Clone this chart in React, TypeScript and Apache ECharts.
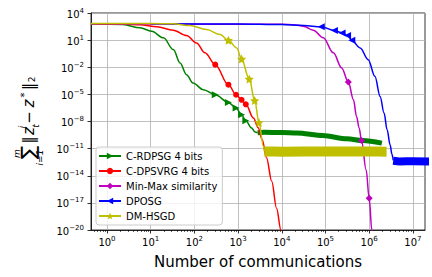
import React, { useEffect, useRef } from 'react';
import * as echarts from 'echarts';

const FONT = 'DejaVu Sans';

const seriesNames = ['C-RDPSG 4 bits', 'C-DPSVRG 4 bits', 'Min-Max similarity', 'DPOSG', 'DM-HSGD'];
const colors = ['#008000', '#ff0000', '#bf00bf', '#0000ff', '#bfbf00'];

// C-RDPSG 4 bits
const rdpsgX = [0.43, 2.3, 5.7, 10.5, 19.5, 33, 47, 66, 93, 160, 300, 600, 900, 1200, 1500, 2040, 2450, 2800];
const rdpsgY = [631, 537, 229, 95.5, 17.8, 0.89, 0.03, 1.5e-3, 1.8e-4, 3.3e-5, 9.1e-6, 1.3e-6, 3.1e-7, 5.6e-8, 1.2e-8, 1.9e-9, 6.8e-10, 5.6e-10];
const rdpsgMarks = [300, 600, 900, 1200, 1500];
const rdpsgBandX = [2800, 4000, 1e4, 2.2e4, 8.7e4, 3.1e5, 7.2e5, 1.95e6];
const rdpsgBandY = [5.6e-10, 6.3e-10, 6.0e-10, 5.2e-10, 2.8e-10, 1.2e-10, 7.9e-11, 4.1e-11];

// C-DPSVRG 4 bits
const dpsvrgX = [0.43, 2.51, 5.7, 13.8, 33, 66, 112, 174, 300, 600, 900, 1200, 1500, 2239, 2884, 3548, 4467, 5888, 7586, 9550, 11220];
const dpsvrgY = [631, 603, 490, 295, 126, 31.6, 4.9, 0.39, 0.0195, 1.17e-4, 9.1e-6, 2.5e-6, 7.9e-7, 2.5e-8, 2.0e-9, 1e-10, 1e-12, 2.5e-15, 2.5e-18, 1e-20, 3.2e-22];
const dpsvrgMarks = [300, 600, 900, 1200, 1500];

// Min-Max similarity
const minmaxX = [0.43, 1e4, 2e4, 30903, 52481, 89125, 151356, 234423, 333333, 436516, 512861, 588844, 666667, 851138, 1e6, 1148154, 1258925];
const minmaxY = [631, 575, 479, 347, 126, 17.8, 0.39, 8.5e-3, 2.3e-4, 2.5e-6, 3.6e-8, 1.9e-9, 7.9e-11, 4.5e-14, 3.2e-17, 1e-20, 3.2e-22];
const minmaxMarks = [333333, 666667, 1e6];

// DPOSG
const dposgX = [10, 1000, 1e4, 3.2e4, 80000, 160000, 240000, 320000, 400000, 6.2e5, 9.5e5, 1.35e6, 1.78e6, 2.19e6, 2.57e6, 3.02e6, 3.31e6, 3.55e6];
const dposgY = [631, 617, 525, 417, 295, 115, 63, 31.6, 9.5, 1.38, 0.069, 1e-3, 6.0e-6, 8.5e-8, 1.26e-9, 2.5e-11, 2.5e-12, 5.0e-13];
const dposgMarks = [80000, 160000, 240000, 320000, 400000];
const dposgBandX = [3.55e6, 5e6, 1e7, 2.5e7];
const dposgBandY = [4.5e-13, 3.8e-13, 4.0e-13, 3.8e-13];

// DM-HSGD
const dmhsgdX = [0.43, 10, 32, 79, 190, 390, 600, 930, 1200, 1800, 2400, 3000, 3800, 4000];
const dmhsgdY = [708, 692, 631, 407, 148, 41.7, 9.5, 1.38, 0.083, 5e-4, 2.1e-6, 7.9e-9, 1.7e-11, 5e-12];
const dmhsgdMarks = [600, 1200, 1800, 2400, 3000];
const dmhsgdBandX = [4000, 1e4, 1e5, 1e6, 2.5e6];
const dmhsgdBandY = [4.8e-12, 4.6e-12, 4.8e-12, 4.8e-12, 4.6e-12];

const xMajorExponents = [0, 1, 2, 3, 4, 5, 6, 7];
const xMinorMultipliers = [2, 3, 4, 5, 6, 7, 8, 9];
const xDecades = [-1, 0, 1, 2, 3, 4, 5, 6, 7];

const X_MIN = -0.366;
const X_MAX = 7.277;

const STAR = 'path://M0,-10 L2.94,-4.05 L9.51,-3.09 L4.76,1.55 L5.88,8.09 L0,5 L-5.88,8.09 L-4.76,1.55 L-9.51,-3.09 L-2.94,-4.05 Z';

const lg = (v: number) => Math.log10(v);

function lineData(xs: number[], ys: number[], marks: number[]) {
  return xs.map((x, i) => {
    const item: any = { value: [lg(x), lg(ys[i])] };
    if (!marks.includes(x)) item.symbol = 'none';
    return item;
  });
}

function bandData(xs: number[], ys: number[]) {
  return xs.map((x, i) => [lg(x), lg(ys[i])]);
}

const supText = (v: number) => String(Math.round(v)).replace('-', '\u2212');
const tickRich = {
  b: { fontSize: 10, fontFamily: FONT, color: '#000', verticalAlign: 'bottom', lineHeight: 12 },
  s: { fontSize: 7, fontFamily: FONT, color: '#000', verticalAlign: 'top', lineHeight: 12 },
};

function mainSeries(idx: number, data: any[], symbol: string, symbolSize: number, rotate = 0) {
  return {
    type: 'line',
    name: seriesNames[idx],
    data,
    symbol,
    symbolSize,
    symbolRotate: rotate,
    showSymbol: true,
    showAllSymbol: true,
    smooth: 0.35,
    smoothMonotone: 'x',
    lineStyle: { color: colors[idx], width: 1.5 },
    itemStyle: { color: colors[idx] },
    z: 3,
  };
}

function band(idx: number, data: any[], width: number) {
  return {
    type: 'line',
    name: seriesNames[idx] + ' band',
    data,
    symbol: 'none',
    showSymbol: false,
    smooth: 0.3,
    smoothMonotone: 'x',
    lineStyle: { color: colors[idx], width, cap: 'butt', join: 'round' },
    itemStyle: { color: colors[idx] },
    z: 3,
  };
}

function mathText(text: string, lx: number, ly: number, size: number, italic = false) {
  return {
    type: 'text',
    x: lx,
    y: ly,
    style: {
      text,
      fontSize: size,
      fontFamily: FONT,
      fontStyle: italic ? 'italic' : 'normal',
      fill: '#000',
      align: 'center',
      verticalAlign: 'middle',
      textAlign: 'center',
      textVerticalAlign: 'middle',
    },
  };
}

export default function App() {
  const ref = useRef<HTMLDivElement>(null);
  useEffect(() => {
    const chart = echarts.init(ref.current!, null, { renderer: 'svg' });
    const minorVals: number[] = [];
    xDecades.forEach((d) => xMinorMultipliers.forEach((m) => {
      const v = lg(m) + d;
      if (v > X_MIN && v < X_MAX) minorVals.push(v);
    }));
    const option: any = {
      animation: false,
      backgroundColor: '#fff',
      grid: {
        left: 91, right: 7, top: 13, bottom: 47,
        show: true, borderColor: '#000', borderWidth: 0.8, backgroundColor: 'transparent',
        containLabel: false, outerBoundsMode: 'none',
      },
      xAxis: [
        {
          type: 'value', min: X_MIN, max: X_MAX, minInterval: 1, maxInterval: 1,
          position: 'bottom',
          axisLine: { show: true, onZero: false, lineStyle: { color: '#000', width: 0.8 } },
          axisTick: { show: true, length: 3.5, lineStyle: { color: '#000', width: 0.8 }, customValues: xMajorExponents },
          axisLabel: {
            customValues: xMajorExponents, margin: 5,
            formatter: (v: number) => `{b|10}{s|${supText(v)}}`, rich: tickRich,
          },
          splitLine: { show: true, lineStyle: { color: '#b0b0b0', width: 0.8 } },
          name: 'Number of communications', nameLocation: 'middle', nameGap: 24,
          nameTextStyle: { fontSize: 15, fontFamily: FONT, color: '#000' },
        },
        {
          type: 'value', min: X_MIN, max: X_MAX, position: 'bottom',
          axisLine: { show: false, onZero: false },
          axisTick: { show: true, length: 2, lineStyle: { color: '#000', width: 0.6 }, customValues: minorVals },
          axisLabel: { show: false },
          splitLine: { show: false },
        },
      ],
      yAxis: {
        type: 'value', min: -20, max: 4, interval: 3,
        axisLine: { show: true, onZero: false, lineStyle: { color: '#000', width: 0.8 } },
        axisTick: { show: true, length: 3.5, lineStyle: { color: '#000', width: 0.8 } },
        axisLabel: { margin: 7, formatter: (v: number) => `{b|10}{s|${supText(v)}}`, rich: tickRich },
        splitLine: { show: true, lineStyle: { color: '#b0b0b0', width: 0.8 } },
      },
      legend: {
        data: seriesNames,
        orient: 'vertical', left: 96, top: 147,
        itemWidth: 22, itemHeight: 8, itemGap: 3,
        textStyle: { fontSize: 10, fontFamily: FONT, color: '#000', lineHeight: 12 },
        backgroundColor: 'rgba(255,255,255,0.8)', borderColor: '#cccccc', borderWidth: 1, borderRadius: 3,
        padding: [3, 5, 3, 2],
      },
      graphic: [
        {
          type: 'group', x: 28, y: 122, rotation: Math.PI / 2,
          children: [
            mathText('\u2211', -30.5, -0.5, 20),
            mathText('m', -31.5, -11.5, 9, true),
            mathText('i=1', -35.5, 11.5, 9, true),
            mathText('\u2016', -18, 0.5, 15),
            mathText('z', -9, 1, 15, true),
            mathText('t', -4, 8, 9, true),
            mathText('i', -5, -6, 9, true),
            mathText('\u2212', 4.5, 1, 15),
            mathText('z', 18.5, 1, 15, true),
            mathText('*', 27, -4, 10),
            mathText('\u2016', 35.5, 0.5, 15),
            mathText('2', 42.5, 4, 9),
          ],
        },
      ],
      series: [
        mainSeries(0, lineData(rdpsgX, rdpsgY, rdpsgMarks), 'triangle', 7, -90),
        band(0, bandData(rdpsgBandX, rdpsgBandY), 5),
        mainSeries(1, lineData(dpsvrgX, dpsvrgY, dpsvrgMarks), 'circle', 6),
        mainSeries(2, lineData(minmaxX, minmaxY, minmaxMarks), 'diamond', 7),
        mainSeries(3, lineData(dposgX, dposgY, dposgMarks), 'triangle', 7, 90),
        band(3, bandData(dposgBandX, dposgBandY), 8),
        mainSeries(4, lineData(dmhsgdX, dmhsgdY, dmhsgdMarks), STAR, 9),
        band(4, bandData(dmhsgdBandX, dmhsgdBandY), 10),
      ],
    };
    chart.setOption(option);
    return () => chart.dispose();
  }, []);
  return <div ref={ref} style={{ width: 432, height: 277, position: 'absolute', left: 0, top: 0 }} />;
}
